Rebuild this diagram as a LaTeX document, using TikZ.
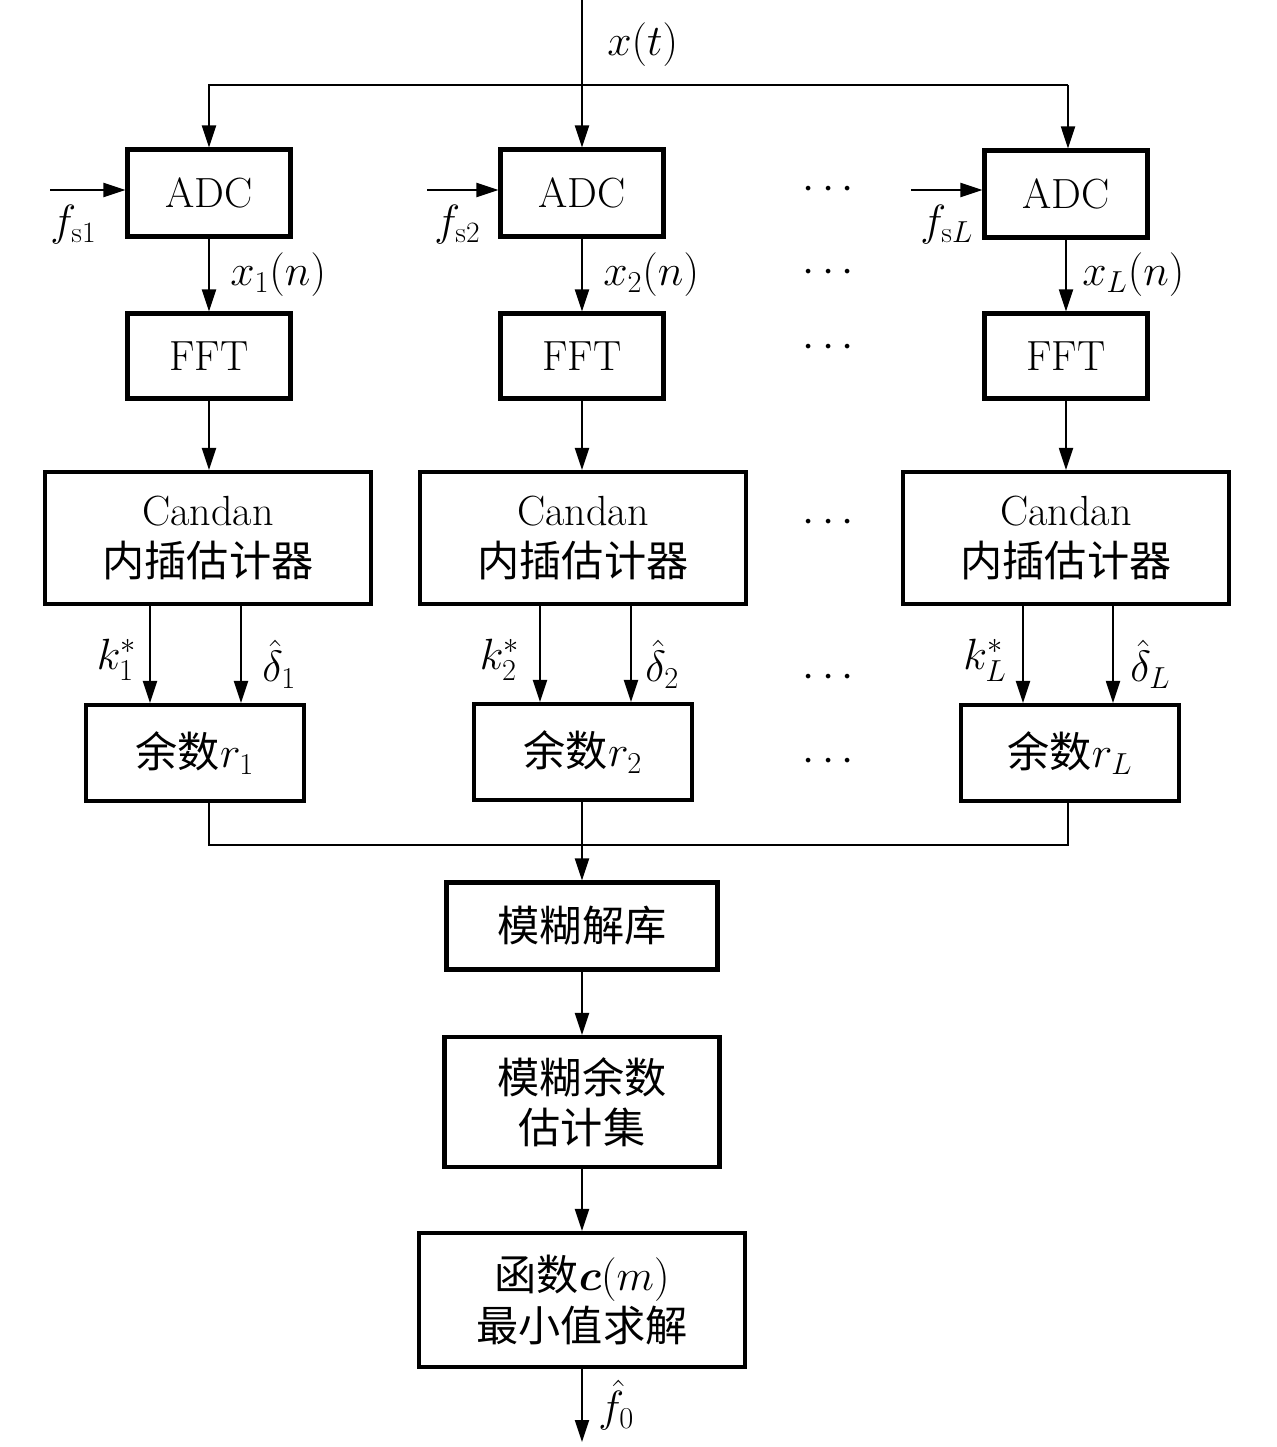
\documentclass[tikz,border=0pt]{standalone}
\usepackage{amsmath}
\usepackage{fontspec}
\newfontfamily\cjk{Noto Sans CJK SC}
\usetikzlibrary{arrows.meta}
\begin{document}
\begin{tikzpicture}[x=0.2mm,y=-0.2mm]
		\tikzstyle{blk}=[draw=black,line width=2.3pt,inner sep=0pt,align=center,font=\fontsize{24}{28.5}\selectfont]
		\tikzstyle{arr}=[-{Triangle[length=4.4mm,width=2.8mm]},line width=1.1pt]
		\tikzstyle{lin}=[line width=1.1pt]
		\tikzstyle{lbl}=[font=\fontsize{24}{28}\selectfont,inner sep=0pt]
		\tikzstyle{dots}=[font=\fontsize{24}{28}\selectfont,inner sep=0pt]
		\useasboundingbox (0,0) rectangle (1276,1447);
		
		% branches: ADC, FFT, Candan, remainder
		\node[blk,minimum width=32.6mm,minimum height=17.4mm] (ADC-1) at (209,193) {ADC};
		\node[blk,minimum width=32.6mm,minimum height=17.4mm] (ADC-2) at (582,193) {ADC};
		\node[blk,minimum width=32.6mm,minimum height=17.4mm] (ADC-L) at (1066,194) {ADC};
		\node[blk,minimum width=32.6mm,minimum height=17mm] (FFT-1) at (209,356) {FFT};
		\node[blk,minimum width=32.6mm,minimum height=17mm] (FFT-2) at (582,356) {FFT};
		\node[blk,minimum width=32.6mm,minimum height=17mm] (FFT-L) at (1066,356) {FFT};
		\node[blk,minimum width=65.2mm,minimum height=26.4mm] (Can-1) at (208,538) {Candan\\{\cjk 内插估计器}};
		\node[blk,minimum width=65.2mm,minimum height=26.4mm] (Can-2) at (583,538) {Candan\\{\cjk 内插估计器}};
		\node[blk,minimum width=65.2mm,minimum height=26.4mm] (Can-L) at (1066,538) {Candan\\{\cjk 内插估计器}};
		\node[blk,minimum width=43.6mm,minimum height=19.2mm] (Rem-1) at (195,753) {{\cjk 余数}$r_1$};
		\node[blk,minimum width=43.6mm,minimum height=19.2mm] (Rem-2) at (583,752) {{\cjk 余数}$r_2$};
		\node[blk,minimum width=43.6mm,minimum height=19.2mm] (Rem-L) at (1070,753) {{\cjk 余数}$r_L$};
		
		% merged part
		\node[blk,minimum width=54.2mm,minimum height=17.4mm] (Amb) at (582,926) {\cjk 模糊解库};
		\node[blk,minimum width=55mm,minimum height=26mm] (Set) at (582,1102) {\cjk 模糊余数\\\cjk 估计集};
		\node[blk,minimum width=65.2mm,minimum height=26.8mm] (Min) at (582,1300) {{\cjk 函数}$\boldsymbol{c}(m)$\\\cjk 最小值求解};
		
		\coordinate (top) at (582,0);
		\coordinate (split) at (582,85);
		\coordinate (split-1) at (209,85);
		\coordinate (split-L) at (1068,85);
		\coordinate (fs-1) at (50,190);
		\coordinate (fs-2) at (427,190);
		\coordinate (fs-L) at (911,190);
		\coordinate (join) at (582,845);
		\coordinate (join-1) at (209,845);
		\coordinate (join-L) at (1068,845);
		\coordinate (out) at (582,1442);
		
		\draw[arr] (top) -- (ADC-2.north);
		\draw[arr] (split-L) -- (split-1) -- (ADC-1.north);
		\draw[arr] (split-L) -- (ADC-L.north -| split-L);
		\draw[arr] (fs-1) -- (ADC-1.west |- fs-1);
		\draw[arr] (fs-2) -- (ADC-2.west |- fs-2);
		\draw[arr] (fs-L) -- (ADC-L.west |- fs-L);
		\draw[arr] (ADC-1) -- (FFT-1);
		\draw[arr] (ADC-2) -- (FFT-2);
		\draw[arr] (ADC-L) -- (FFT-L);
		\draw[arr] (FFT-1) -- (Can-1.north -| FFT-1);
		\draw[arr] (FFT-2) -- (Can-2.north -| FFT-2);
		\draw[arr] (FFT-L) -- (Can-L.north -| FFT-L);
		\draw[arr] (Can-1.south -| 150,0) -- (Rem-1.north -| 150,0);
		\draw[arr] (Can-1.south -| 241,0) -- (Rem-1.north -| 241,0);
		\draw[arr] (Can-2.south -| 540,0) -- (Rem-2.north -| 540,0);
		\draw[arr] (Can-2.south -| 631,0) -- (Rem-2.north -| 631,0);
		\draw[arr] (Can-L.south -| 1023,0) -- (Rem-L.north -| 1023,0);
		\draw[arr] (Can-L.south -| 1113,0) -- (Rem-L.north -| 1113,0);
		\draw[lin] (Rem-1.south -| join-1) -- (join-1) -- (join-L) -- (Rem-L.south -| join-L);
		\draw[arr] (Rem-2.south -| join) -- (Amb.north);
		\draw[arr] (Amb) -- (Set);
		\draw[arr] (Set) -- (Min);
		\draw[arr] (Min) -- (out);
		
		% labels
		\node[lbl,anchor=west] (xt) at (607,45) {$x(t)$};
		\node[lbl,anchor=north west] (fs1) at (50,205) {$f_{\mathrm{s1}}$};
		\node[lbl,anchor=north west] (fs2) at (434,205) {$f_{\mathrm{s2}}$};
		\node[lbl,anchor=north west] (fsL) at (920,205) {$f_{\mathrm{s}L}$};
		\node[lbl,anchor=west] (xn1) at (230,275) {$x_1(n)$};
		\node[lbl,anchor=west] (xn2) at (603,275) {$x_2(n)$};
		\node[lbl,anchor=west] (xnL) at (1082,275) {$x_L(n)$};
		\node[lbl,anchor=east] (k1) at (137,660) {$k_1^*$};
		\node[lbl,anchor=east] (k2) at (520,660) {$k_2^*$};
		\node[lbl,anchor=east] (kL) at (1007,660) {$k_L^*$};
		\node[lbl,anchor=west] (d1) at (262,664) {$\hat{\delta}_1$};
		\node[lbl,anchor=west] (d2) at (645,664) {$\hat{\delta}_2$};
		\node[lbl,anchor=west] (dL) at (1130,664) {$\hat{\delta}_L$};
		\node[lbl,anchor=west] (f0) at (598,1405) {$\hat{f}_0$};
		
		\foreach \y/\n in {190/1,273/2,348/3,523/4,678/5,762/6}
		\node[dots] (dots-\n) at (832,\y) {$\cdots$};
		
		\end{tikzpicture}
\end{document}
